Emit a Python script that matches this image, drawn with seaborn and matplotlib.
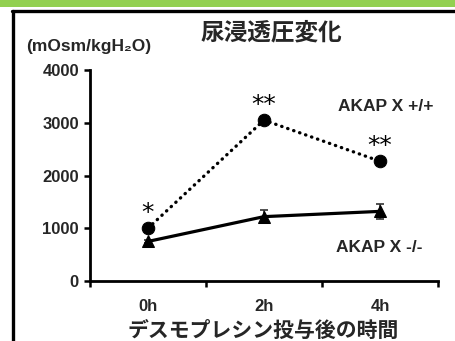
import numpy as np
import pandas as pd
import matplotlib
matplotlib.use('Agg')
import matplotlib.pyplot as plt
import seaborn as sns
from matplotlib.patches import Rectangle
from matplotlib.lines import Line2D

# Data
times = ['0h', '2h', '4h']
wt_vals = [1000, 3050, 2270]      # AKAP X +/+
wt_err = [30, 30, 30]
ko_vals = [750, 1220, 1320]       # AKAP X -/-
ko_err = [30, 125, 145]
stars = ['*', '**', '**']

sns.set_theme(style='white')
plt.rcParams['font.family'] = ['Liberation Sans', 'Noto Sans CJK JP', 'DejaVu Sans']
plt.rcParams['font.weight'] = 'bold'

fig = plt.figure(figsize=(4.56, 3.41), dpi=100)
ax = fig.add_axes([90 / 456, 1 - 281 / 341, 348 / 456, 211 / 341])

pos = np.arange(len(times))
df = pd.DataFrame({'pos': np.concatenate([pos, pos]),
                   'val': wt_vals + ko_vals,
                   'err': wt_err + ko_err,
                   'group': ['AKAP X +/+'] * 3 + ['AKAP X -/-'] * 3})

wt = df[df['group'] == 'AKAP X +/+']
ko = df[df['group'] == 'AKAP X -/-']

# error bars
ax.errorbar(ko['pos'], ko['val'], yerr=ko['err'], fmt='none', ecolor='#333333',
            elinewidth=1.2, capsize=3, capthick=1.2, zorder=2)
ax.errorbar(wt['pos'], wt['val'], yerr=wt['err'], fmt='none', ecolor='#333333',
            elinewidth=1.2, capsize=3, capthick=1.2, zorder=2)

sns.lineplot(data=ko, x='pos', y='val', ax=ax, color='black', linewidth=2.3,
             marker='^', markersize=8, markeredgecolor='black', legend=False, zorder=3)
sns.lineplot(data=wt, x='pos', y='val', ax=ax, color='black', linewidth=2.4,
             linestyle=(0, (0.1, 1.8)), dash_capstyle='round',
             marker='o', markersize=9, markeredgecolor='black', legend=False, zorder=4)

# significance stars
for x, v, s in zip(pos, wt_vals, stars):
    ax.annotate(s, (x, v), xytext=(0, 2), textcoords='offset points', ha='center',
                va='bottom', fontsize=18, fontweight='normal', family='DejaVu Sans',
                color='black')

ax.text(1.635, 3300, 'AKAP X +/+', ha='left', va='center', fontsize=12.5, fontweight='bold')
ax.text(1.625, 630, 'AKAP X -/-', ha='left', va='center', fontsize=12.5, fontweight='bold')

# axes
ax.set_xlim(-0.5, 2.5)
ax.set_ylim(0, 4000)
ax.set_yticks([0, 1000, 2000, 3000, 4000])
ax.set_yticklabels(['0', '1000', '2000', '3000', '4000'], fontsize=12, fontweight='bold')
ax.set_xticks([-0.5, 0.5, 1.5, 2.5])
ax.set_xticklabels([])
ax.set_xticks(pos, minor=True)
ax.set_xticklabels(times, minor=True, fontsize=12, fontweight='bold')
ax.tick_params(axis='x', which='minor', length=0, pad=13)
ax.tick_params(axis='both', which='major', direction='out', length=4, width=1.8,
               color='black', left=True, bottom=True, pad=4)
for side in ['top', 'right']:
    ax.spines[side].set_visible(False)
for side in ['left', 'bottom']:
    ax.spines[side].set_linewidth(2)
    ax.spines[side].set_color('black')
ax.set_xlabel('')
ax.set_ylabel('')

# labels
fig.text(271 / 456, 1 - 32 / 341, '尿浸透圧変化', ha='center', va='center', fontsize=17,
         fontweight='bold', family=['Noto Sans CJK JP'])
fig.text(26 / 456, 1 - 46 / 341, '(mOsm/kgH₂O)', ha='left', va='center', fontsize=12.5,
         fontweight='bold')
fig.text(263 / 456, 1 - 330 / 341, 'デスモプレシン投与後の時間', ha='center', va='center',
         fontsize=15, fontweight='bold', family=['Noto Sans CJK JP'])

# decorative frame
fig.add_artist(Rectangle((0, 1 - 7 / 341), 1, 7 / 341, transform=fig.transFigure,
                         color='#92D050', lw=0))
fig.add_artist(Line2D([13.5 / 456, 13.5 / 456], [0, 1 - 11 / 341], transform=fig.transFigure,
                      color='black', lw=2.4))
fig.add_artist(Line2D([12 / 456, 1], [1 - 11 / 341, 1 - 11 / 341], transform=fig.transFigure,
                      color='black', lw=2.4))

fig.savefig('out.png', dpi=100, facecolor='white')
